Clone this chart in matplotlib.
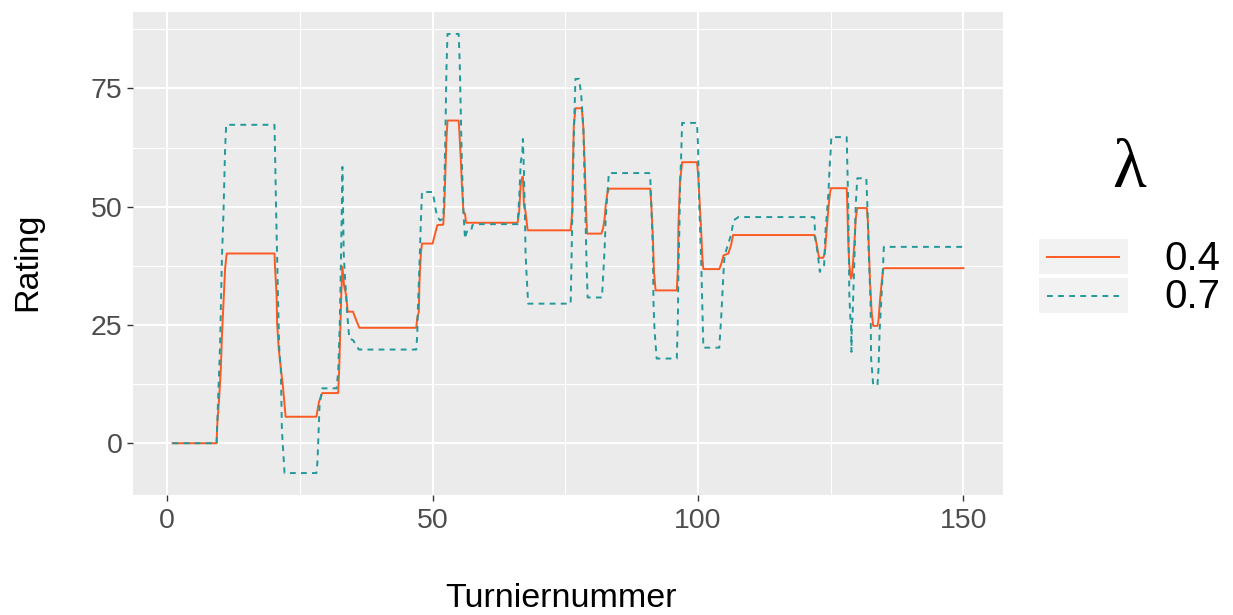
import matplotlib
matplotlib.use("Agg")
import matplotlib.pyplot as plt
from matplotlib.patches import Rectangle
from matplotlib.lines import Line2D
from matplotlib.ticker import MultipleLocator

plt.rcParams['font.family'] = ['Liberation Sans', 'DejaVu Sans']

# rating trajectory for lambda = 0.4 (tournament number, rating)
turnier_04 = [1.0, 9.3, 9.4, 9.8, 10.1, 10.3, 10.6, 10.9, 11.2, 20.2,
              20.3, 20.6, 20.7, 21.0, 21.4, 21.8, 22.3, 28.1, 28.6, 29.2,
              32.2, 32.4, 32.6, 32.8, 33.0, 33.3, 33.7, 34.0, 35.0, 35.6,
              36.2, 46.9, 47.1, 47.4, 47.5, 47.6, 47.8, 48.0, 50.0, 50.3,
              50.9, 52.0, 52.2, 52.4, 52.6, 52.8, 54.9, 55.0, 55.3, 55.5,
              55.8, 56.1, 56.3, 66.0, 66.3, 66.6, 66.9, 67.0, 67.2, 67.5,
              67.9, 76.0, 76.3, 76.4, 76.6, 76.9, 78.1, 78.4, 78.7, 78.9,
              79.1, 81.8, 82.1, 82.4, 82.6, 82.9, 83.2, 91.0, 91.2, 91.5,
              91.7, 92.0, 96.0, 96.2, 96.3, 96.6, 97.0, 99.8, 100.0, 100.3,
              100.6, 100.8, 101.0, 104.0, 104.4, 104.8, 105.7, 106.2, 106.6, 107.0,
              121.9, 122.2, 122.5, 122.8, 123.6, 123.9, 124.2, 124.5, 124.7, 125.0,
              128.0, 128.1, 128.2, 128.3, 128.5, 128.8, 129.0, 129.2, 129.5, 129.7,
              130.0, 131.8, 132.0, 132.2, 132.4, 132.7, 133.0, 133.8, 134.0, 134.3,
              134.6, 134.9, 135.2, 150.0]
rating_04 = [0.0, 0.0, 3.5, 9.9, 15.8, 22.5, 29.9, 36.9, 40.1, 40.1,
             37.3, 31.3, 25.3, 20.0, 15.8, 12.0, 5.6, 5.6, 8.8, 10.6,
             10.6, 15.8, 24.2, 31.8, 37.3, 33.4, 31.3, 27.8, 27.8, 26.0,
             24.4, 24.4, 26.4, 27.8, 33.4, 36.2, 40.4, 42.2, 42.2, 43.6,
             46.1, 46.2, 50.3, 57.3, 64.3, 68.2, 68.2, 66.5, 60.1, 54.9,
             48.9, 48.5, 46.6, 46.6, 48.9, 54.9, 56.3, 56.3, 50.3, 48.9,
             45.0, 45.0, 48.9, 57.7, 67.2, 70.8, 70.8, 66.5, 57.3, 49.0,
             44.3, 44.3, 45.4, 47.5, 50.3, 52.7, 53.8, 53.8, 50.3, 43.2,
             36.2, 32.3, 32.3, 36.9, 46.0, 55.2, 59.4, 59.4, 57.0, 51.0,
             44.7, 39.4, 36.8, 36.8, 38.0, 39.7, 40.1, 41.8, 44.0, 44.0,
             44.0, 42.9, 41.1, 39.2, 39.2, 40.4, 44.7, 48.9, 51.3, 53.9,
             53.9, 51.0, 46.8, 42.5, 37.6, 34.8, 35.5, 38.3, 43.2, 47.5,
             49.7, 49.7, 46.8, 40.4, 34.1, 27.8, 24.8, 24.8, 26.0, 30.6,
             34.1, 36.9, 37.0, 37.0]

# rating trajectory for lambda = 0.7
turnier_07 = [1.0, 9.3, 9.4, 9.6, 9.8, 10.0, 10.1, 10.3, 10.6, 10.9,
              11.1, 20.2, 20.3, 20.5, 20.7, 20.9, 21.1, 21.4, 21.6, 22.1,
              28.1, 28.3, 28.7, 29.2, 31.9, 32.2, 32.5, 32.75, 33.0, 33.25,
              33.5, 33.9, 34.3, 35.0, 36.1, 46.9, 47.1, 47.2, 47.4, 47.5,
              47.6, 47.8, 48.0, 50.0, 50.3, 50.6, 50.9, 51.4, 52.0, 52.2,
              52.4, 52.6, 52.8, 54.9, 55.1, 55.3, 55.5, 55.8, 56.1, 56.4,
              57.2, 57.5, 58.2, 66.0, 66.3, 66.6, 66.9, 67.0, 67.2, 67.4,
              67.5, 67.7, 68.0, 76.0, 76.1, 76.3, 76.6, 76.9, 77.6, 78.0,
              78.4, 78.8, 79.0, 79.2, 81.9, 82.1, 82.4, 82.6, 82.9, 83.2,
              90.8, 91.0, 91.2, 91.5, 91.6, 91.8, 92.2, 96.0, 96.2, 96.3,
              96.5, 96.6, 96.8, 97.0, 99.8, 100.0, 100.2, 100.6, 100.85, 101.0,
              104.0, 104.35, 104.6, 104.8, 105.0, 105.2, 106.2, 106.7, 107.6, 121.9,
              122.1, 122.5, 122.95, 123.25, 123.75, 124.0, 124.4, 124.6, 124.8, 125.0,
              125.1, 128.0, 128.1, 128.3, 128.4, 128.5, 128.7, 128.85, 128.9, 128.95,
              129.1, 129.3, 129.5, 129.7, 130.0, 131.7, 131.9, 132.15, 132.5, 132.6,
              133.0, 133.8, 134.0, 134.2, 134.5, 134.8, 135.0, 150.0]
rating_07 = [0.0, 0.0, 3.5, 9.9, 15.8, 22.5, 28.5, 39.0, 48.9, 62.2,
             67.3, 67.3, 62.2, 49.6, 39.0, 29.2, 20.0, 15.8, 2.8, -6.3,
             -6.3, -3.9, 8.1, 11.6, 11.6, 15.1, 25.0, 40.0, 58.4, 40.0,
             34.8, 27.4, 22.1, 21.8, 19.8, 19.8, 22.8, 27.8, 34.1, 36.9,
             40.4, 47.5, 53.1, 53.1, 51.3, 49.2, 47.8, 47.1, 47.5, 54.5,
             65.0, 79.1, 86.5, 86.5, 80.5, 70.0, 59.4, 48.9, 43.2, 44.7,
             44.7, 46.1, 46.3, 46.3, 51.7, 59.4, 61.5, 64.3, 57.3, 47.5,
             40.4, 35.5, 29.5, 29.5, 34.8, 47.5, 65.0, 77.0, 77.0, 73.5,
             66.5, 47.5, 37.6, 30.8, 30.8, 34.8, 41.1, 47.5, 52.4, 57.1,
             57.1, 55.9, 50.3, 40.4, 29.9, 23.9, 17.9, 17.9, 26.4, 36.2,
             46.1, 54.5, 60.1, 67.7, 67.7, 62.9, 51.0, 38.3, 26.4, 20.2,
             20.2, 26.4, 32.0, 36.2, 39.7, 40.4, 44.0, 47.1, 47.8, 47.8,
             43.2, 40.4, 36.2, 37.3, 37.6, 44.7, 50.3, 53.8, 58.7, 61.9,
             64.7, 64.7, 60.1, 50.3, 40.4, 31.3, 26.4, 25.0, 19.3, 25.0,
             26.4, 33.4, 40.4, 50.3, 56.0, 56.0, 50.3, 40.4, 29.9, 17.9,
             12.3, 12.3, 15.8, 23.6, 29.9, 36.2, 41.5, 41.5]

lambdas = ['0.4', '0.7']
farben = ['#FC5A22', '#21999A']
dash_07 = (0, (3.0, 2.7))

W, H = 1233, 615
fig = plt.figure(figsize=(W / 100, H / 100), dpi=100)
ax = fig.add_axes([133 / W, 1 - 495 / H, 870 / W, 483 / H])
ax.set_facecolor('#EBEBEB')
for s in ax.spines.values():
    s.set_visible(False)

ax.plot(turnier_04, rating_04, color=farben[0], lw=1.4, zorder=3)
ax.plot(turnier_07, rating_07, color=farben[1], lw=1.4, ls=dash_07, zorder=4)

ax.set_xlim(-6.45, 157.45)
ax.set_ylim(-10.94, 91.14)
ax.xaxis.set_major_locator(MultipleLocator(50))
ax.xaxis.set_minor_locator(MultipleLocator(25))
ax.yaxis.set_major_locator(MultipleLocator(25))
ax.yaxis.set_minor_locator(MultipleLocator(12.5))
ax.grid(which='major', color='white', lw=1.5, zorder=0)
ax.grid(which='minor', color='white', lw=0.8, zorder=0)
ax.set_axisbelow(True)
ax.tick_params(which='major', length=4.5, width=1.0, color='#333333',
               labelcolor='#4D4D4D', labelsize=20.5)
ax.tick_params(axis='x', pad=5)
ax.tick_params(axis='y', pad=3)
ax.tick_params(which='minor', length=0)

fig.text(561 / W, 8 / H, 'Turniernummer', fontsize=24.5, ha='center',
         va='baseline', color='black')
fig.text(28 / W, 1 - 262 / H, 'Rating', fontsize=24.5, rotation=90,
         ha='center', va='center', color='black')

# legend drawn in pixel space on a transparent overlay
leg = fig.add_axes([0, 0, 1, 1], facecolor='none')
leg.set_xlim(0, W)
leg.set_ylim(H, 0)
leg.axis('off')
leg.text(1129, 170, 'λ', fontsize=50, family='Liberation Serif',
         ha='center', va='center')
for i, (lab, col) in enumerate(zip(lambdas, farben)):
    top = 239 + i * 38.5
    leg.add_patch(Rectangle((1039, top), 89, 35, facecolor='#F2F2F2',
                            edgecolor='none'))
    ls = '-' if i == 0 else dash_07
    leg.add_line(Line2D([1047, 1119], [top + 18, top + 18], color=col,
                        lw=1.4, ls=ls))
    leg.text(1164, top + 20, lab, fontsize=29, ha='left', va='center')

fig.savefig('out.png', dpi=100)
